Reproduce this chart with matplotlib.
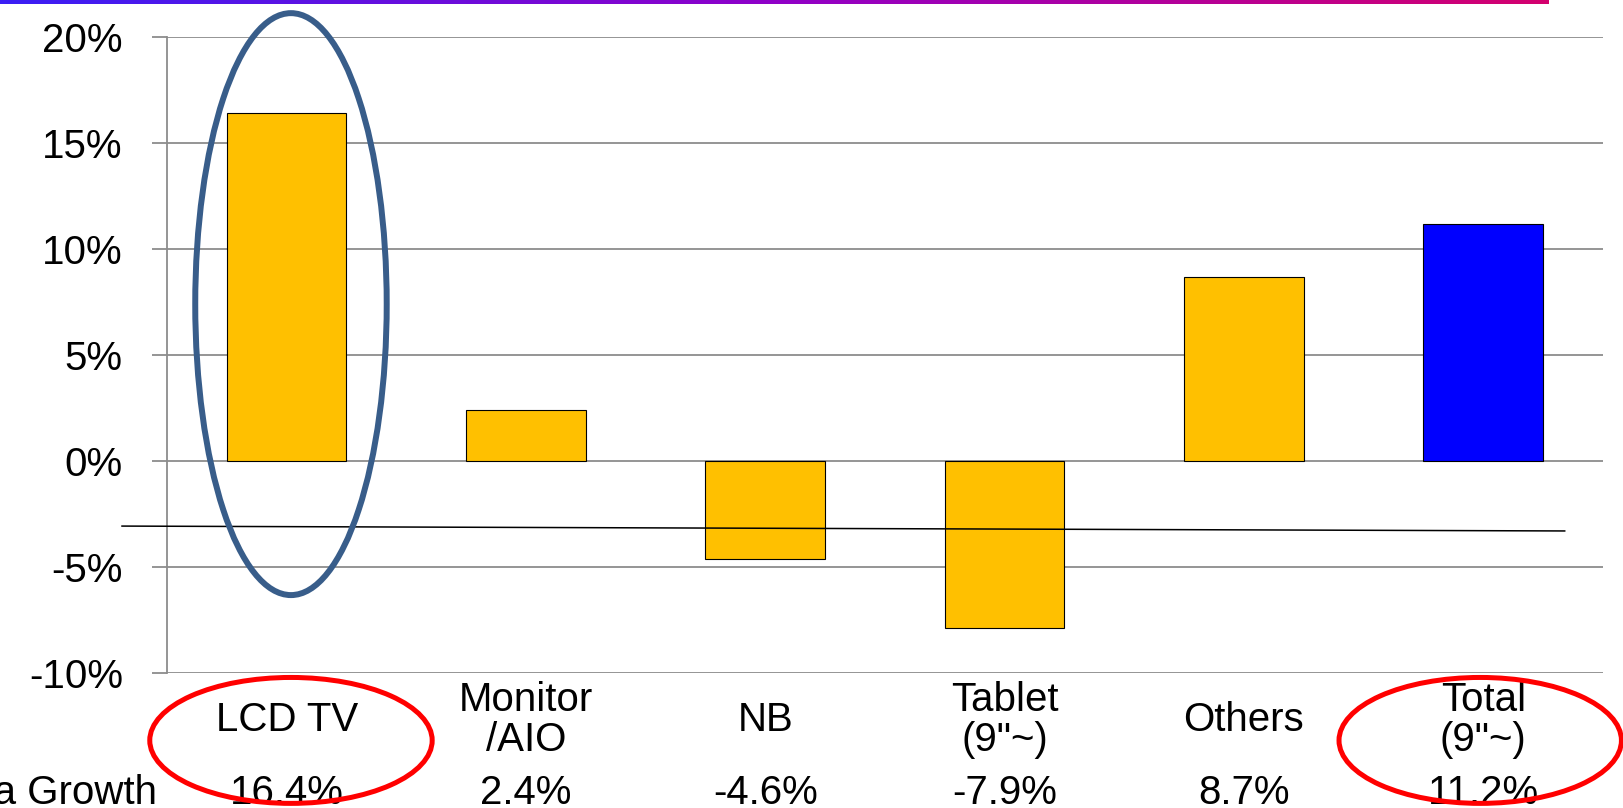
import matplotlib.pyplot as plt
import numpy as np
from matplotlib.patches import Ellipse
from matplotlib.colors import LinearSegmentedColormap

# Datos del gráfico
categorias = ['LCD TV', 'Monitor\n/AIO', 'NB', 'Tablet\n(9"~)', 'Others', 'Total\n(9"~)']
crecimiento = [16.4, 2.4, -4.6, -7.9, 8.7, 11.2]
colores = ['#FFC000', '#FFC000', '#FFC000', '#FFC000', '#FFC000', '#0000FF']
ticks_y = [-10, -5, 0, 5, 10, 15, 20]
etiqueta_fila = 'Area Growth'
linea_ref = [-3.07, -3.30]  # línea negra (inicio, fin)

plt.rcParams['font.family'] = ['Liberation Sans', 'DejaVu Sans']
fs = 29

W, H = 1624, 808
fig = plt.figure(figsize=(W / 100, H / 100), dpi=100)

# Barra degradada superior
gax = fig.add_axes([0, 1 - 4 / H, 1549 / W, 4 / H])
grad = np.linspace(0, 1, 256).reshape(1, -1)
cmap = LinearSegmentedColormap.from_list('g', ['#3A1EF5', '#9000C8', '#D4006E'])
gax.imshow(grad, aspect='auto', cmap=cmap)
gax.axis('off')

ax = fig.add_axes([167 / W, (H - 673) / H, 1436 / W, 636 / H])
x = np.arange(len(categorias))
ax.bar(x, crecimiento, width=0.5, color=colores, edgecolor='black', linewidth=0.8, zorder=3)

ax.set_xlim(-0.5, 5.5)
ax.set_ylim(-10, 20)
ax.set_yticks(ticks_y)
ax.set_yticklabels([f'{t}%' for t in ticks_y], fontsize=fs)
ax.set_xticks([])
ax.yaxis.grid(True, color='#8C8C8C', linewidth=1.3, zorder=0)
ax.tick_params(axis='y', length=10.8, width=1.3, color='#8C8C8C', pad=21)
for s in ['top', 'right', 'bottom']:
    ax.spines[s].set_visible(False)
ax.spines['left'].set_color('#8C8C8C')
ax.spines['left'].set_linewidth(1.3)

# Etiquetas de categoría y fila de crecimiento
tr = ax.get_xaxis_transform()
for i, (cat, v) in enumerate(zip(categorias, crecimiento)):
    ax.text(i, -0.074, cat, transform=tr, ha='center', va='center', fontsize=fs,
            linespacing=1.07, multialignment='center', clip_on=False)
    ax.text(i, -0.189, f'{v:.1f}%', transform=tr, ha='center', va='center',
            fontsize=fs, clip_on=False)
fig.text(157 / W, (H - 793) / H, etiqueta_fila, ha='right', va='center', fontsize=fs)

# Línea negra de referencia
ax.plot([-0.688, 5.34], linea_ref, color='black', linewidth=1.1, clip_on=False, zorder=4)

# Elipses de resaltado
ax.add_patch(Ellipse((0.018, 7.4), 0.80, 27.45, fill=False, edgecolor='#385D8A',
                     linewidth=4.3, clip_on=False, zorder=5))
for i in [0, 5]:
    ax.add_patch(Ellipse((i + (0.018 if i == 0 else -0.013), -13.18), 1.18, 5.94,
                         fill=False, edgecolor='#FF0000', linewidth=3.6,
                         clip_on=False, zorder=5))

plt.savefig('out.png', dpi=100)
plt.close(fig)
